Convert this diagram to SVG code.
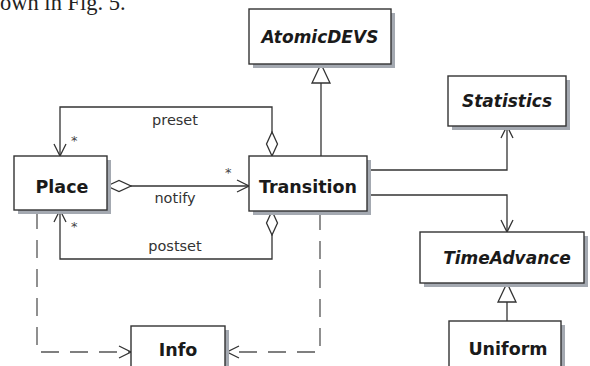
<svg xmlns="http://www.w3.org/2000/svg" width="590" height="366" viewBox="0 0 590 366">
<defs>
<style>
.box{fill:#fff;stroke:#333;stroke-width:1.4}
.shadow{fill:#a4a9b1}
.name{font-family:"DejaVu Sans",Verdana,sans-serif;font-weight:bold;font-size:17.5px;fill:#1a1a1a;text-anchor:middle}
.abs{font-style:italic;font-size:17px}
.lbl{font-family:"DejaVu Sans",Verdana,sans-serif;font-size:14.5px;fill:#333;text-anchor:middle}
.star{font-family:"DejaVu Sans",Verdana,sans-serif;font-size:13px;fill:#444}
.ln{fill:none;stroke:#333;stroke-width:1.3}
.dash{fill:none;stroke:#555;stroke-width:1.3;stroke-dasharray:18 11}
</style>
<marker id="open" markerUnits="userSpaceOnUse" viewBox="0 0 14 14" markerWidth="14" markerHeight="14" refX="13" refY="7" orient="auto">
<path d="M1,1 L13,7 L1,13" fill="none" stroke="#333" stroke-width="1.3"/>
</marker>
<marker id="diamond" markerUnits="userSpaceOnUse" viewBox="0 0 26 14" markerWidth="26" markerHeight="14" refX="1" refY="7" orient="auto">
<path d="M1,7 L13,1.5 L25,7 L13,12.5 Z" fill="#fff" stroke="#333" stroke-width="1.3"/>
</marker>
<marker id="tri" markerUnits="userSpaceOnUse" viewBox="0 0 22 22" markerWidth="22" markerHeight="22" refX="20" refY="11" orient="auto">
<path d="M20,11 L1,2 L1,20 Z" fill="#fff" stroke="#333" stroke-width="1.3"/>
</marker>
</defs>
<rect width="590" height="366" fill="#fff"/>
<text x="0" y="10" font-family="'Liberation Serif','Times New Roman',serif" font-size="22.5" fill="#222">own in Fig. 5.</text>

<g id="connectors">
<path class="ln" d="M321,156 L321,64" marker-end="url(#tri)"/>
<path class="ln" d="M507,321 L507,283" marker-end="url(#tri)"/>
<path class="ln" d="M272,156 L272,107 L60,107 L60,156" marker-start="url(#diamond)" marker-end="url(#open)"/>
<path class="ln" d="M107,186 L249,186" marker-start="url(#diamond)" marker-end="url(#open)"/>
<path class="ln" d="M272,211 L272,259 L60,259 L60,210" marker-start="url(#diamond)" marker-end="url(#open)"/>
<path class="ln" d="M367,170 L507,170 L507,126" marker-end="url(#open)"/>
<path class="ln" d="M367,195 L507,195 L507,232" marker-end="url(#open)"/>
<path class="dash" d="M37,211 L37,352 L131,352" marker-end="url(#open)"/>
<path class="dash" d="M320,212 L320,352 L227,352" marker-end="url(#open)"/>
<text class="lbl" x="175" y="125">preset</text>
<text class="lbl" x="175" y="203">notify</text>
<text class="lbl" x="175" y="251">postset</text>
<text class="star" x="71" y="145">*</text>
<text class="star" x="225" y="177">*</text>
<text class="star" x="71" y="231">*</text>
</g>

<g id="AtomicDEVS">
<rect class="shadow" x="253" y="13" width="142" height="55"/>
<rect class="box" x="249" y="9" width="142" height="55"/>
<text class="name abs" x="320" y="43">AtomicDEVS</text>
</g>
<g id="Statistics">
<rect class="shadow" x="452" y="80" width="118" height="50"/>
<rect class="box" x="448" y="76" width="118" height="50"/>
<text class="name abs" x="507" y="107">Statistics</text>
</g>
<g id="Place">
<rect class="shadow" x="18" y="160" width="93" height="54"/>
<rect class="box" x="14" y="156" width="93" height="54"/>
<text class="name" x="62" y="193">Place</text>
</g>
<g id="Transition">
<rect class="shadow" x="253" y="160" width="118" height="55"/>
<rect class="box" x="249" y="156" width="118" height="55"/>
<text class="name" x="308" y="193">Transition</text>
</g>
<g id="TimeAdvance">
<rect class="shadow" x="424" y="236" width="164" height="51"/>
<rect class="box" x="420" y="232" width="164" height="51"/>
<text class="name abs" x="507" y="264">TimeAdvance</text>
</g>
<g id="Uniform">
<rect class="shadow" x="453" y="325" width="112" height="60"/>
<rect class="box" x="449" y="321" width="112" height="60"/>
<text class="name" x="508" y="355">Uniform</text>
</g>
<g id="Info">
<rect class="shadow" x="135" y="330" width="94" height="60"/>
<rect class="box" x="131" y="326" width="94" height="60"/>
<text class="name" x="178" y="356">Info</text>
</g>
</svg>
